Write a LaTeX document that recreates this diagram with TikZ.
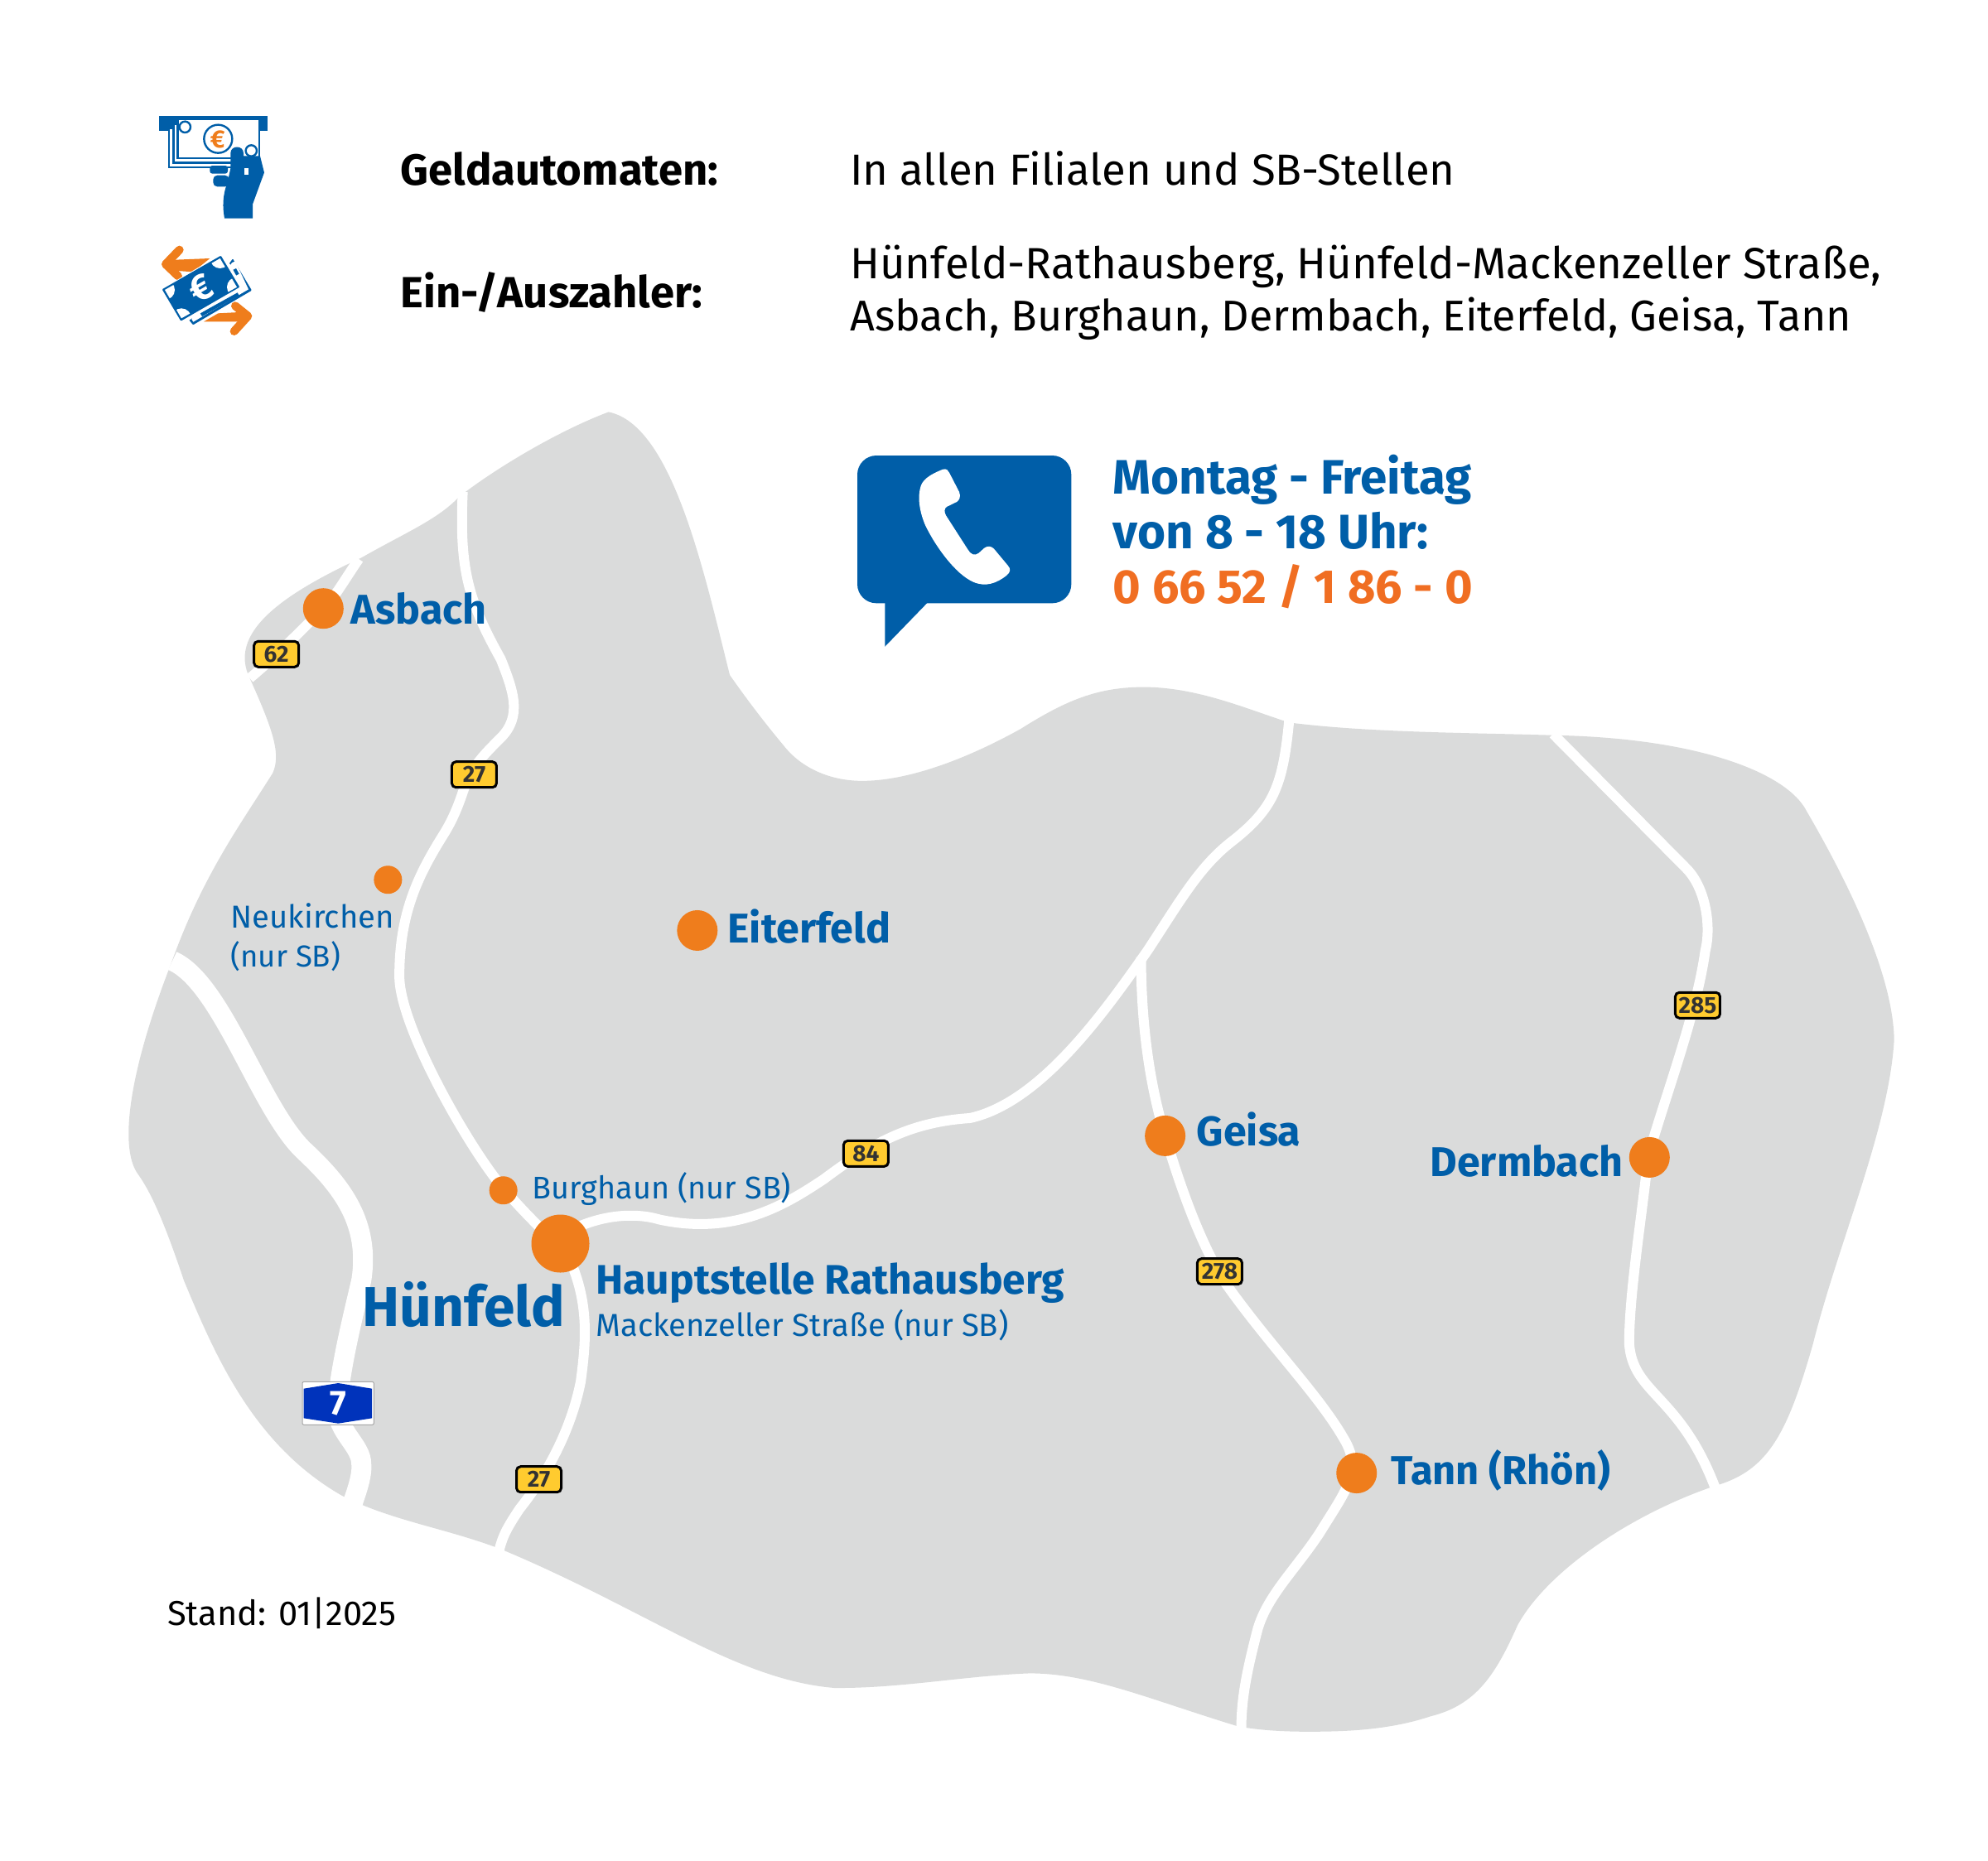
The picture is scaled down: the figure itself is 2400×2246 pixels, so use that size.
\documentclass[tikz,border=0pt]{standalone}
\usepackage{fontspec}
\setmainfont{Fira Sans}
\definecolor{spblue}{HTML}{005EA8}
\definecolor{sporange}{HTML}{EF7D1C}
\definecolor{teloran}{HTML}{F06E22}
\definecolor{mapgrey}{HTML}{DADBDB}
\definecolor{signyellow}{HTML}{FFCB2F}
\definecolor{signblue}{HTML}{0033BB}
\tikzset{
  road/.style={draw=white,line width=12pt,line cap=butt},
  motorway/.style={draw=white,line width=24pt,line cap=butt},
  txtplain/.style={anchor=base west,inner sep=0pt,outer sep=0pt},
  head/.style={txtplain,font=\fontsize{52.6}{52}\selectfont,text=black},
  headb/.style={txtplain,font=\fontsize{52.6}{52}\selectfont\bfseries,text=black},
  phone/.style={txtplain,font=\fontsize{58.4}{58}\selectfont\bfseries,text=spblue},
  town/.style={txtplain,font=\fontsize{50.2}{50}\selectfont\bfseries,text=spblue},
  small/.style={txtplain,font=\fontsize{38.3}{38}\selectfont,text=spblue},
  dotbig/.style={circle,fill=sporange,inner sep=0pt,minimum size=49pt},
  dotsmall/.style={circle,fill=sporange,inner sep=0pt,minimum size=34pt},
  dothuge/.style={circle,fill=sporange,inner sep=0pt,minimum size=70pt},
  sign/.style={draw=black,line width=3pt,fill=signyellow,rounded corners=5pt,minimum width=54pt,minimum height=31pt,inner sep=0pt,text=black!80,font=\fontsize{28}{28}\selectfont\bfseries},
  iconline/.style={draw=spblue,line width=2.4pt,fill=white},
}
\begin{document}
\begin{tikzpicture}[x=1pt,y=-1pt]
\useasboundingbox (0,0) rectangle (2400,2246);
% ---- map (coordinates in the 1568-wide view)
\begin{scope}[scale=1.5306]
\fill[mapgrey] (480,325) .. controls (530,335) and (555,450) .. (575.6,532.5)
 .. controls (590,553) and (603,570) .. (618,588)
 .. controls (632,606) and (655,616) .. (680,616)
 .. controls (715,616) and (760,600) .. (805,575)
 .. controls (840,553) and (865,542) .. (902,542)
 .. controls (945,542) and (985,560) .. (1017,570)
 .. controls (1080,578) and (1160,578) .. (1225,580)
 .. controls (1340,582) and (1410,610) .. (1425,640)
 .. controls (1460,700) and (1493,770) .. (1494,820)
 .. controls (1490,890) and (1450,980) .. (1430,1060)
 .. controls (1410,1130) and (1395,1160) .. (1353,1172)
 .. controls (1285,1195) and (1220,1240) .. (1197,1282)
 .. controls (1180,1320) and (1165,1345) .. (1128,1354)
 .. controls (1095,1365) and (1060,1366) .. (1032,1366)
 .. controls (1012,1366) and (995,1365) .. (977,1362)
 .. controls (905,1340) and (860,1320) .. (812,1320)
 .. controls (760,1322) and (710,1332) .. (658,1331.5)
 .. controls (580,1325) and (510,1270) .. (395,1222)
 .. controls (350,1205) and (310,1200) .. (270,1180)
 .. controls (200,1140) and (170,1070) .. (145,1010)
 .. controls (125,950) and (115,935) .. (108,925)
 .. controls (95,905) and (100,850) .. (135,760)
 .. controls (160,690) and (190,650) .. (215,610)
 .. controls (222,595) and (215,575) .. (197,535)
 .. controls (180,500) and (220,470) .. (285,440)
 .. controls (320,420) and (345,410) .. (362,392)
 .. controls (390,370) and (440,340) .. (480,325) -- cycle;
% roads
\draw[road] (365,388) .. controls (362,450) and (370,475) .. (395,520)
 .. controls (405,545) and (412,565) .. (395,582)
 .. controls (380,597) and (372,605) .. (365,625)
 .. controls (360,640) and (355,650) .. (350,658)
 .. controls (330,690) and (315,720) .. (315,770)
 .. controls (315,810) and (370,905) .. (395,935)
 .. controls (420,965) and (442,982) .. (450,995)
 .. controls (465,1030) and (462,1060) .. (458,1090)
 .. controls (450,1130) and (430,1165) .. (410,1190)
 .. controls (400,1205) and (396,1212) .. (393,1226);
\draw[road] (442,975) .. controls (470,958) and (500,956) .. (520,962)
 .. controls (580,975) and (620,950) .. (650,930)
 .. controls (690,900) and (720,885) .. (765,882)
 .. controls (820,870) and (870,800) .. (905,750)
 .. controls (930,712) and (945,685) .. (970,665)
 .. controls (1005,638) and (1012,620) .. (1017,566);
\draw[road] (900,755) .. controls (900,800) and (905,850) .. (919,896)
 .. controls (935,950) and (950,985) .. (965,1010)
 .. controls (1000,1060) and (1040,1100) .. (1060,1135)
 .. controls (1075,1160) and (1062,1175) .. (1041,1209)
 .. controls (1022,1238) and (1000,1258) .. (992,1285)
 .. controls (983,1320) and (979,1340) .. (979,1366);
\draw[road] (1225,579) -- (1330,685)
 .. controls (1345,700) and (1350,730) .. (1345,750)
 .. controls (1338,800) and (1315,860) .. (1300,912)
 .. controls (1295,960) and (1285,1020) .. (1285,1060)
 .. controls (1288,1100) and (1325,1100) .. (1353,1174);
\draw[road] (283,441) .. controls (270,460) and (265,470) .. (255,480)
 .. controls (235,500) and (215,520) .. (197,535);
\draw[motorway] (136,758) .. controls (175,775) and (205,875) .. (240,908)
 .. controls (270,936) and (292,965) .. (285,1010)
 .. controls (278,1040) and (268,1080) .. (266,1110)
 .. controls (266,1130) and (285,1140) .. (285,1155)
 .. controls (286,1165) and (280,1180) .. (276,1192);
% towns
\node[dotbig] (pAsbach) at (255,480) {};
\node[dotsmall] (pNeukirchen) at (306,694) {};
\node[dotbig] (pEiterfeld) at (550,734) {};
\node[dotsmall] (pBurghaun) at (397,939) {};
\node[dothuge] (pHuenfeld) at (442,981) {};
\node[dotbig] (pGeisa) at (919,896) {};
\node[dotbig] (pDermbach) at (1301,913) {};
\node[dotbig] (pTann) at (1070,1162) {};
% labels
\node[headb] (tGeld) at (316,146) {Geldautomaten:};
\node[headb] (tEin) at (316,243) {Ein-/Auszahler:};
\node[head] (tIn) at (670.5,146) {In allen Filialen und SB-Stellen};
\node[head,font=\fontsize{52.8}{52}\selectfont] (tH1) at (670.5,220) {Hünfeld-Rathausberg, Hünfeld-Mackenzeller Straße,};
\node[head,font=\fontsize{52}{52}\selectfont] (tH2) at (670.5,261) {Asbach, Burghaun, Dermbach, Eiterfeld, Geisa, Tann};
\node[phone] (tMo) at (878,390) {Montag - Freitag};
\node[phone] (tVon) at (878,433) {von 8 - 18 Uhr:};
\node[phone,text=teloran,font=\fontsize{57.6}{58}\selectfont\bfseries] (tTel) at (878,476) {0 66 52 / 1 86 - 0};
\node[small,text=black,font=\fontsize{41.7}{42}\selectfont] (tStand) at (132,1282) {Stand: 01|2025};
\node[town] (tAsbach) at (277,492) {Asbach};
\node[small] (tNeu1) at (182,732) {Neukirchen};
\node[small,font=\fontsize{36.6}{37}\selectfont] (tNeu2) at (182,763) {(nur SB)};
\node[town] (tEiterfeld) at (574,744) {Eiterfeld};
\node[small,font=\fontsize{37.8}{38}\selectfont] (tBurghaun) at (420,946) {Burghaun (nur SB)};
\node[town,font=\fontsize{49.8}{50}\selectfont\bfseries] (tHaupt) at (470,1021) {Hauptstelle Rathausberg};
\node[small] (tMack) at (470,1054) {Mackenzeller Straße (nur SB)};
\node[town,font=\fontsize{67.7}{68}\selectfont\bfseries] (tHuenfeld) at (286,1046) {Hünfeld};
\node[town] (tGeisa) at (944,904) {Geisa};
\node[town] (tDermbach) at (1128,928) {Dermbach};
\node[town,font=\fontsize{48.8}{49}\selectfont\bfseries] (tTann) at (1097,1171) {Tann (Rhön)};
% signs
\node[sign] (s62) at (218,516) {62};
\node[sign] (s27a) at (374,611) {27};
\node[sign] (s27b) at (425,1167) {27};
\node[sign] (s84) at (683,910) {84};
\node[sign] (s278) at (962,1003) {278};
\node[sign] (s285) at (1339,793) {285};
\end{scope}
% ---- A7 sign (zoom coordinates)
\begin{scope}[shift={(340,1640)},scale=1/3]
\filldraw[draw=black!35,fill=white,line width=1pt,rounded corners=2pt] (75,85) rectangle (334,241);
\fill[signblue] (80,110) -- (205,90) -- (327,110) -- (327,217) -- (205,236) -- (80,217) -- cycle;
\node[inner sep=0pt,text=white,font=\fontsize{42}{42}\selectfont\bfseries] (sA7) at (205,165) {7};
\end{scope}
% ---- telephone bubble
\begin{scope}[shift={(1020,530)},scale=1/3]
\fill[spblue,rounded corners=23pt] (45,60) rectangle (820,595);
\fill[spblue] (145,590) -- (145,752) -- (302,590) -- cycle;
\fill[white] (355,110) .. controls (368,106) and (375,115) .. (378,122)
 -- (414,192) .. controls (420,208) and (416,220) .. (405,228)
 -- (370,245) .. controls (358,252) and (360,265) .. (366,277)
 -- (445,400) .. controls (455,418) and (470,425) .. (485,413)
 -- (505,395) .. controls (518,386) and (530,388) .. (540,398)
 -- (590,458) .. controls (602,472) and (600,482) .. (585,495)
 .. controls (550,522) and (510,538) .. (465,518)
 .. controls (400,490) and (325,385) .. (290,310)
 .. controls (270,262) and (262,210) .. (275,170)
 .. controls (285,140) and (325,122) .. (355,110) -- cycle;
\end{scope}
% ---- cash machine icon
\begin{scope}[shift={(170,120)},scale=1/3]
\fill[spblue] (65,60) rectangle (460,113);
\filldraw[iconline] (102,105) rectangle (330,246);
\filldraw[iconline] (118,88) rectangle (415,230);
\filldraw[iconline] (133,72) rectangle (429,213);
\draw[spblue,line width=2.4pt] (160,100) circle (20);
\draw[spblue,line width=2.4pt] (400,186) circle (20);
\draw[spblue,line width=2.4pt] (280,143) circle (51);
\node[inner sep=0pt,text=sporange,font=\fontsize{30}{30}\selectfont\bfseries] (eA) at (278,146) {€};
\fill[spblue] (325,195) .. controls (325,165) and (372,165) .. (372,195) -- (372,205) -- (432,205)
 -- (447,265) -- (405,380) -- (405,431) -- (303,431) .. controls (296,390) and (295,350) .. (314,300)
 -- (325,250) -- cycle;
\fill[white] (375,250) rectangle (390,273);
\fill[spblue,rounded corners=3pt] (250,240) rectangle (315,269);
\fill[spblue,rounded corners=5pt] (262,275) rectangle (320,316);
\end{scope}
% ---- deposit icon
\begin{scope}[shift={(170,120)},scale=1/3]
\fill[sporange] (100,582) -- (250,576) -- (190,625) -- (115,620) -- cycle;
\draw[sporange,line width=10pt,line cap=round,line join=round] (140,545) -- (90,597) -- (135,640);
\fill[sporange] (375,770) -- (280,775) -- (228,805) -- (375,805) -- cycle;
\draw[sporange,line width=10pt,line cap=round,line join=round] (342,748) -- (388,785) -- (338,840);
\fill[spblue,rounded corners=1pt] (333,577) -- (402,692) -- (189,817) -- (174,798) -- cycle;
\fill[white] (330,592) -- (342,586) -- (390,688) -- (190,806) -- (184,796) -- cycle;
\fill[spblue] (320,625) -- (345,612) -- (356,632) -- (330,646) -- cycle;
\fill[spblue] (215,775) -- (350,700) -- (356,710) -- (222,786) -- cycle;
\fill[white] (300,555) -- (368,680) -- (150,815) -- (70,690) -- cycle;
\fill[spblue,rounded corners=1pt] (77,688) -- (290,566) -- (358,680) -- (145,803) -- cycle;
\begin{scope}
\clip (87,690) -- (287,576) -- (348,680) -- (147,793) -- cycle;
\fill[white] (87,690) circle (36);
\fill[white] (287,576) circle (36);
\fill[white] (348,680) circle (36);
\fill[white] (147,793) circle (36);
\end{scope}
\node[inner sep=0pt,rotate=30,text=white,font=\fontsize{44}{44}\selectfont\bfseries] (eB) at (217,685) {€};
\end{scope}
\end{tikzpicture}
\end{document}
